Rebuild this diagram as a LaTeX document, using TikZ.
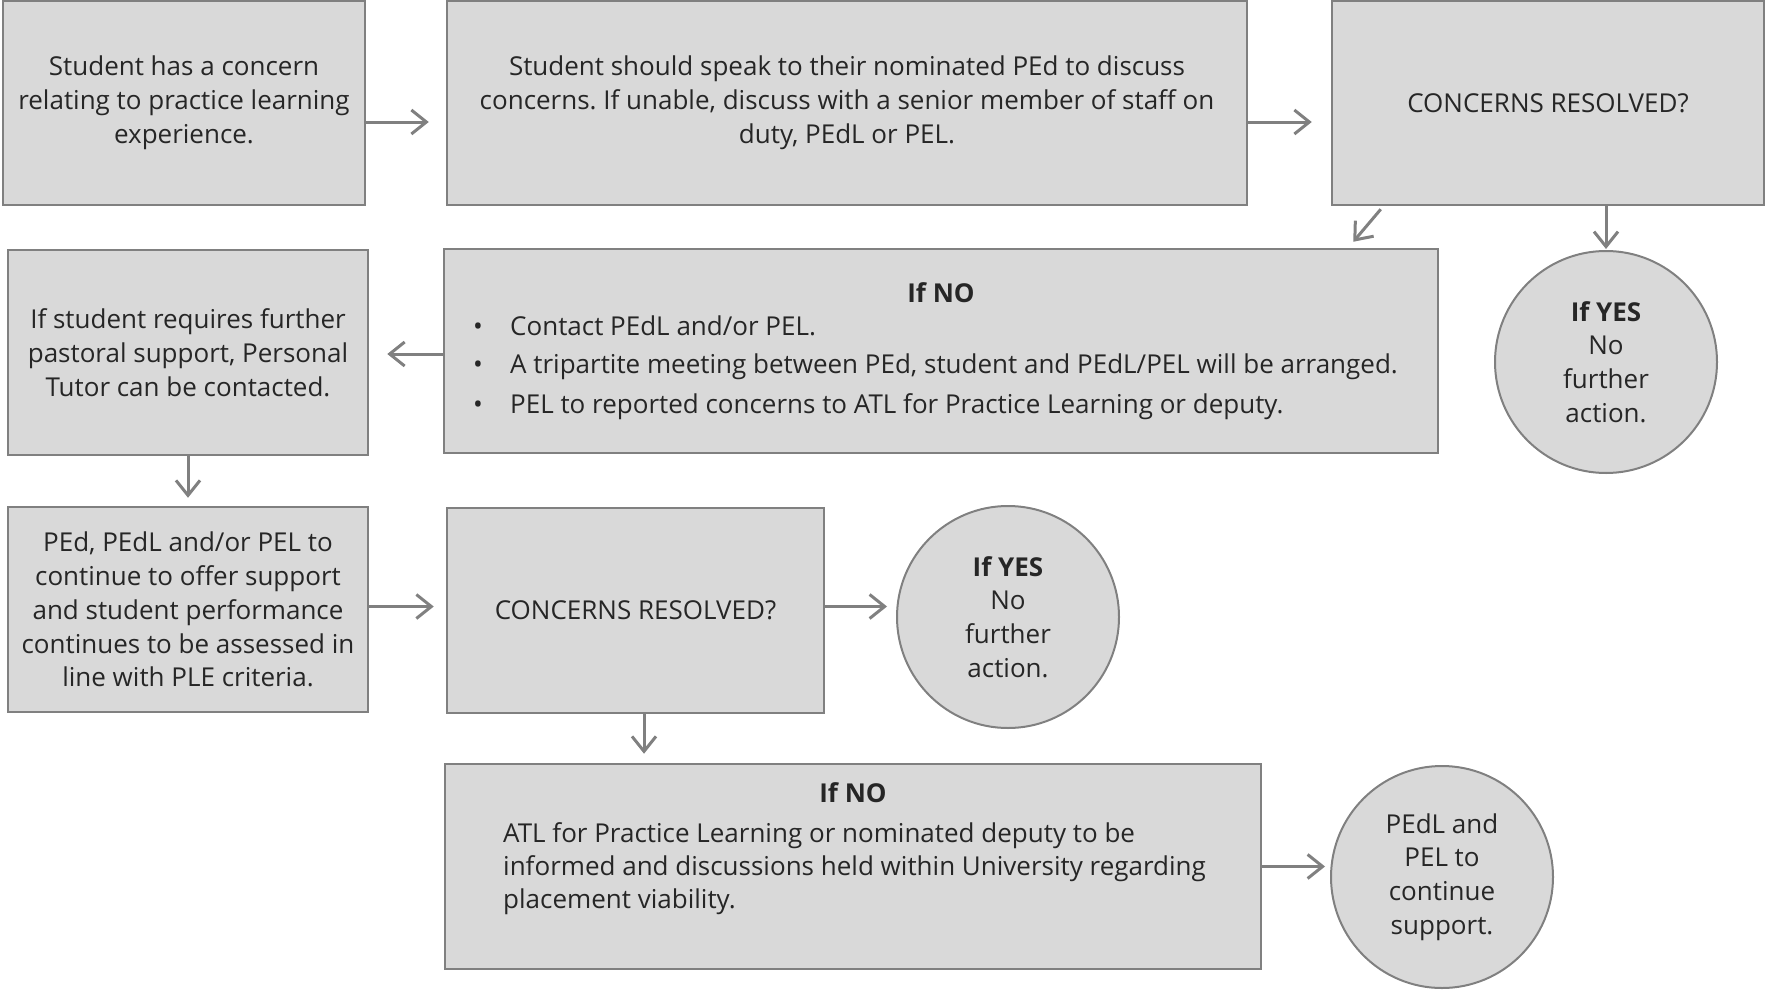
\documentclass[tikz,border=0pt]{standalone}
\usepackage{fontspec}
\setmainfont{Open Sans}
\usetikzlibrary{arrows.meta}
\definecolor{boxfill}{HTML}{D9D9D9}
\definecolor{boxline}{HTML}{808080}
\definecolor{txtcol}{HTML}{262626}
\frenchspacing
\newcommand{\diagfont}{\fontsize{26}{33.8}\selectfont}
\begin{document}
\begin{tikzpicture}[x=1pt,y=-1pt,
  every node/.style={text=txtcol,font=\diagfont},
  box/.style={draw=boxline,fill=boxfill,line width=2.5pt,inner sep=0pt,align=center},
  circ/.style={circle,draw=boxline,fill=boxfill,line width=2pt,inner sep=0pt,align=center,minimum size=222pt},
  arr/.style={draw=boxline,line width=3pt,-{Straight Barb[length=15pt,width=24pt]}},
  txt/.style={inner sep=0pt}]
\useasboundingbox (0,0) rectangle (1766,990);

% row 1
\node[box,minimum width=362pt,minimum height=204pt] (b1) at (184,103)
  {Student has a concern\\relating to practice learning\\experience.};
\node[box,minimum width=800pt,minimum height=204pt] (b2) at (847,103)
  {Student should speak to their nominated PEd to discuss\\concerns. If unable, discuss with a senior member of staff on\\duty, PEdL or PEL.};
\node[box,minimum width=432pt,minimum height=204pt] (b3) at (1548,103)
  {CONCERNS RESOLVED?};

% row 2
\node[box,minimum width=994pt,minimum height=204pt] (b4) at (941,351) {};
\node[txt,anchor=base] (b4h) at (941,302) {\textbf{If NO}};
\node[txt,anchor=base] (b4d1) at (478,335) {•};
\node[txt,anchor=base west] (b4t1) at (510,335) {Contact PEdL and/or PEL.};
\node[txt,anchor=base] (b4d2) at (478,373) {•};
\node[txt,anchor=base west] (b4t2) at (510,373) {A tripartite meeting between PEd, student and PEdL/PEL will be arranged.};
\node[txt,anchor=base] (b4d3) at (478,413) {•};
\node[txt,anchor=base west] (b4t3) at (510,413) {PEL to reported concerns to ATL for Practice Learning or deputy.};

\node[circ] (c1) at (1606,362) {\textbf{If YES}\\No\\further\\action.};

\node[box,minimum width=360pt,minimum height=205pt] (b5) at (188,352.5)
  {If student requires further\\pastoral support, Personal\\Tutor can be contacted.};

% row 3
\node[box,minimum width=360pt,minimum height=205pt] (b6) at (188,609.5)
  {PEd, PEdL and/or PEL to\\continue to offer support\\and student performance\\continues to be assessed in\\line with PLE criteria.};
\node[box,minimum width=377pt,minimum height=205pt] (b7) at (635.5,610.5)
  {CONCERNS RESOLVED?};
\node[circ] (c2) at (1008,617) {\textbf{If YES}\\No\\further\\action.};

% row 4
\node[box,minimum width=816pt,minimum height=205pt] (b8) at (853,866.5) {};
\node[txt,anchor=base] (b8h) at (853,802) {\textbf{If NO}};
\node[txt,anchor=base west] (b8t1) at (503,842) {ATL for Practice Learning or nominated deputy to be};
\node[txt,anchor=base west] (b8t2) at (503,875) {informed and discussions held within University regarding};
\node[txt,anchor=base west] (b8t3) at (503,908) {placement viability.};
\node[circ] (c3) at (1442,877) {PEdL and\\PEL to\\continue\\support.};

% connectors
\draw[arr,shorten >=17pt] ([yshift=-19pt]b1.east) -- ([yshift=-19pt]b1.east -| b2.west);
\draw[arr,shorten >=19pt] ([yshift=-19pt]b2.east) -- ([yshift=-19pt]b2.east -| b3.west);
\draw[arr] ([xshift=50pt,yshift=-3pt]b3.south west) -- ([xshift=-86pt,yshift=6pt]b4.north east);
\draw[arr,shorten >=1pt] (c1.north |- b3.south) -- (c1.north);
\draw[arr,shorten >=18pt] ([yshift=-3pt]b4.west) -- ([yshift=-3pt]b4.west -| b5.east);
\draw[arr,shorten >=8pt] (b5.south) -- (b6.north);
\draw[arr,shorten >=12pt] ([yshift=3pt]b6.east) -- ([yshift=3pt]b6.east -| b7.west);
\draw[arr,shorten >=9pt] ([yshift=4pt]b7.east) -- ([yshift=4pt]b7.east -| c2.west);
\draw[arr,shorten >=9pt] ([xshift=8.5pt]b7.south) -- ([xshift=8.5pt]b7.south |- b8.north);
\draw[arr,shorten >=5pt] (b8.east) -- (b8.east -| c3.west);
\end{tikzpicture}
\end{document}
